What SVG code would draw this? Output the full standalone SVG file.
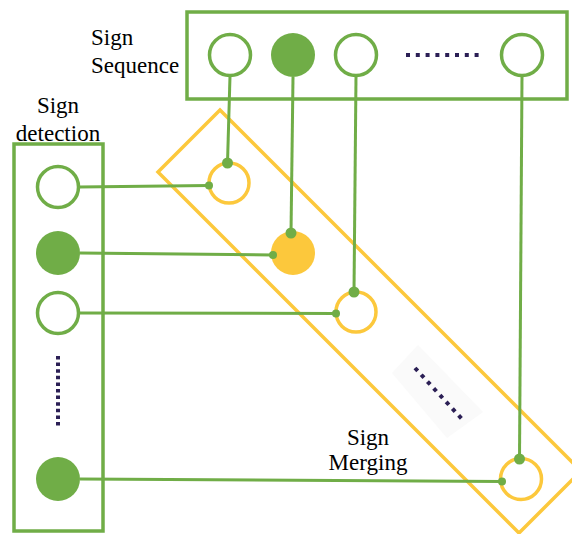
<svg xmlns="http://www.w3.org/2000/svg" width="572" height="534" viewBox="0 0 572 534">
<style>
.box{fill:none;stroke:#70AD47;stroke-width:3.5}
.gc{fill:#fff;stroke:#70AD47;stroke-width:3.5}
.gf{fill:#70AD47}
.yc{fill:#fff;stroke:#FCC83C;stroke-width:3.5}
.yf{fill:#FCC83C}
.ybox{fill:none;stroke:#FCC83C;stroke-width:3.5}
.ln{stroke:#70AD47;stroke-width:3;fill:none}
.dt{fill:#70AD47}
.dots{stroke:#2b1f55;stroke-width:4;fill:none}
text{font-family:"Liberation Serif","Times New Roman",serif;font-size:23px;fill:#000}
</style>
<rect width="572" height="534" fill="#fff"/>
<g id="merging">
<polygon class="ybox" points="220,110 581,471 519,533 158,172"/>
<polygon points="392,373 418,345 483,412 447,438" fill="#fafafa"/>
<line class="dots" x1="415" y1="368" x2="462" y2="419" stroke-dasharray="4 5.2"/>
<circle class="yc" cx="229" cy="183" r="20"/>
<circle class="yf" cx="293" cy="253" r="22"/>
<circle class="yc" cx="356" cy="312" r="20"/>
<circle class="yc" cx="521" cy="479" r="20.5"/>
<text x="368" y="445" text-anchor="middle">Sign</text>
<text x="368" y="470" text-anchor="middle">Merging</text>
</g>
<g id="sequence">
<rect class="box" x="187" y="12" width="380" height="87"/>
<circle class="gc" cx="230" cy="55" r="20.5"/>
<circle class="gf" cx="293" cy="55" r="22"/>
<circle class="gc" cx="356" cy="55" r="20.5"/>
<line class="dots" x1="406" y1="55" x2="479" y2="55" stroke-dasharray="4 5.8"/>
<circle class="gc" cx="522" cy="55" r="20.5"/>
<text x="91" y="45">Sign</text>
<text x="91" y="73">Sequence</text>
</g>
<g id="detection">
<rect class="box" x="14" y="144" width="89" height="387"/>
<circle class="gc" cx="58" cy="187" r="20.5"/>
<circle class="gf" cx="58" cy="253" r="22"/>
<circle class="gc" cx="58" cy="313" r="20.5"/>
<line class="dots" x1="58" y1="356" x2="58" y2="427" stroke-dasharray="3.5 3.1"/>
<circle class="gf" cx="58" cy="479" r="22"/>
<text x="58" y="113" text-anchor="middle">Sign</text>
<text x="58" y="141" text-anchor="middle">detection</text>
</g>
<g id="connectors">
<line class="ln" x1="230" y1="76" x2="227.5" y2="163"/>
<line class="ln" x1="293" y1="77" x2="291" y2="233"/>
<line class="ln" x1="356" y1="76" x2="354" y2="292"/>
<line class="ln" x1="522" y1="76" x2="519.5" y2="459"/>
<circle class="dt" cx="227.5" cy="163" r="5.5"/>
<circle class="dt" cx="291" cy="233" r="5.5"/>
<circle class="dt" cx="354" cy="292" r="5.5"/>
<circle class="dt" cx="519.5" cy="459" r="5.5"/>
<line class="ln" x1="79" y1="187" x2="209" y2="185.5"/>
<line class="ln" x1="80" y1="253" x2="273" y2="255"/>
<line class="ln" x1="79" y1="313" x2="336" y2="313.5"/>
<line class="ln" x1="80" y1="479" x2="502" y2="481.5"/>
<circle class="dt" cx="209" cy="185.5" r="4"/>
<circle class="dt" cx="273" cy="255" r="4"/>
<circle class="dt" cx="336" cy="313.5" r="4"/>
<circle class="dt" cx="502" cy="481.5" r="4"/>
</g>
</svg>
